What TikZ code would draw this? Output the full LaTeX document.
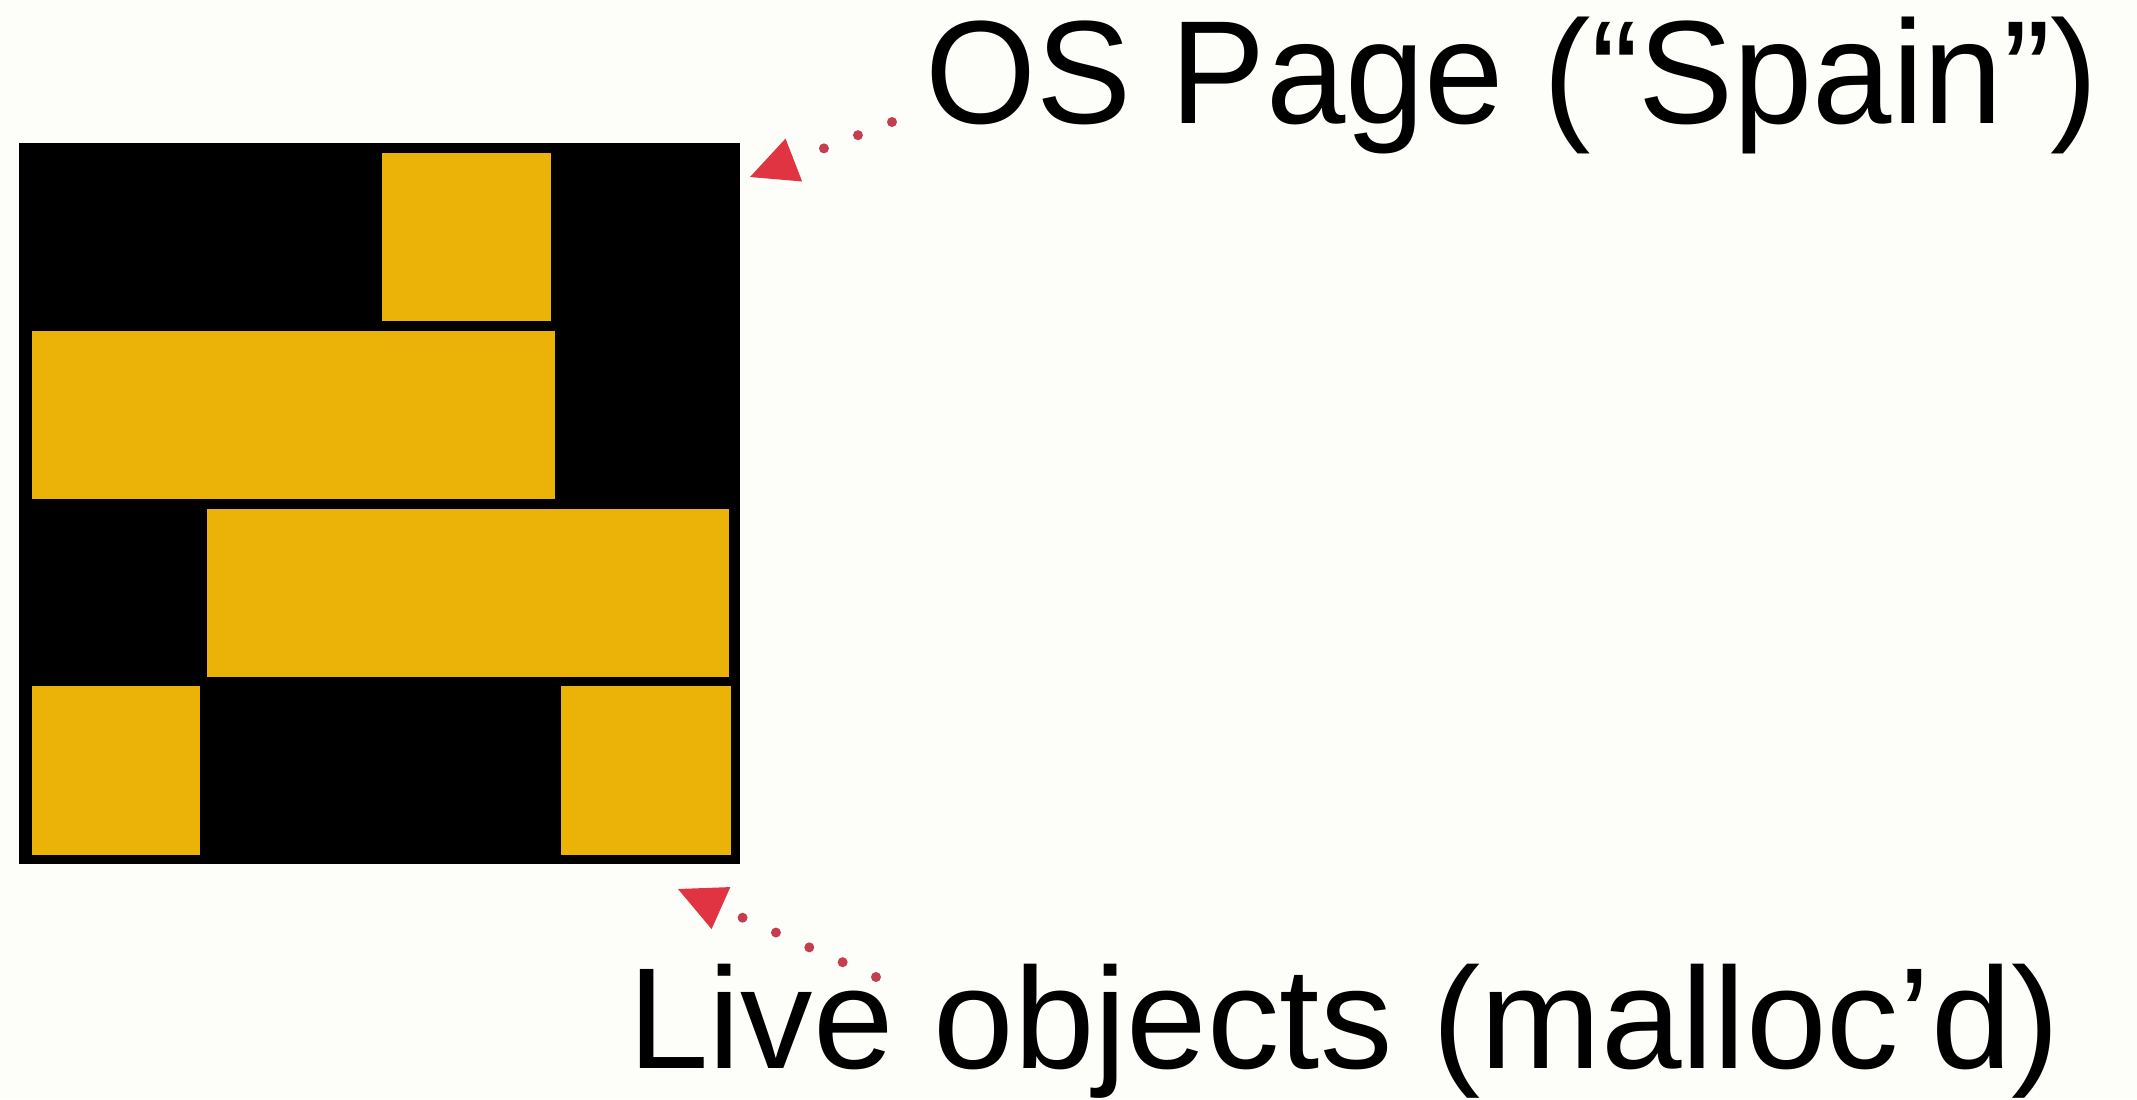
\documentclass[tikz,border=0pt]{standalone}
\usepackage{fontspec}
\setmainfont{Liberation Sans}
\usetikzlibrary{arrows.meta}
\definecolor{gold}{RGB}{235,178,8}
\definecolor{arrowred}{RGB}{224,52,66}
\definecolor{dotred}{RGB}{196,62,78}
\definecolor{bg}{RGB}{253,253,250}
\begin{document}
\begin{tikzpicture}[x=0.5pt,y=-0.5pt,
  page/.style={fill=black,draw=none,inner sep=0pt,anchor=north west},
  block/.style={fill=gold,draw=none,inner sep=0pt,anchor=north west},
  lbl/.style={inner sep=0pt,anchor=base west,text=black},
  ptr/.style={draw=dotred,line width=5pt,line cap=round,dash pattern=on 0pt off 18.25pt,
    -{Triangle[length=23.5pt,width=23pt,line width=0pt,color=arrowred]}}]
\fill[bg] (0,0) rectangle (2137,1099);
\useasboundingbox (0,0) rectangle (2137,1099);
\node[page,minimum width=360.75pt,minimum height=360.5pt] (pg) at (18.5,143) {};
\node[block,minimum width=84.5pt,minimum height=84pt] (b1) at (382,153) {};
\node[block,minimum width=261.5pt,minimum height=84pt] (b2) at (32,331) {};
\node[block,minimum width=261pt,minimum height=84pt] (b3) at (206.5,509) {};
\node[block,minimum width=84pt,minimum height=84.5pt] (b4) at (32,686) {};
\node[block,minimum width=84.75pt,minimum height=84.5pt] (b5) at (561,686) {};
\node[lbl,font=\fontsize{73.5pt}{80pt}\selectfont] (ostext) at (925,123) {\scalebox{0.97}[1]{OS Page (“Spain”)}};
\node[lbl,font=\fontsize{72pt}{80pt}\selectfont] (livetext) at (628,1068) {\scalebox{1.005}[1]{Live objects (malloc’d)}};
\coordinate (t1) at (892,122);
\coordinate (h1) at (750,177);
\coordinate (t2) at (876,977);
\coordinate (h2) at (678,889);
\draw[ptr] (t1) -- (h1);
\draw[ptr] (t2) -- (h2);
\end{tikzpicture}
\end{document}
